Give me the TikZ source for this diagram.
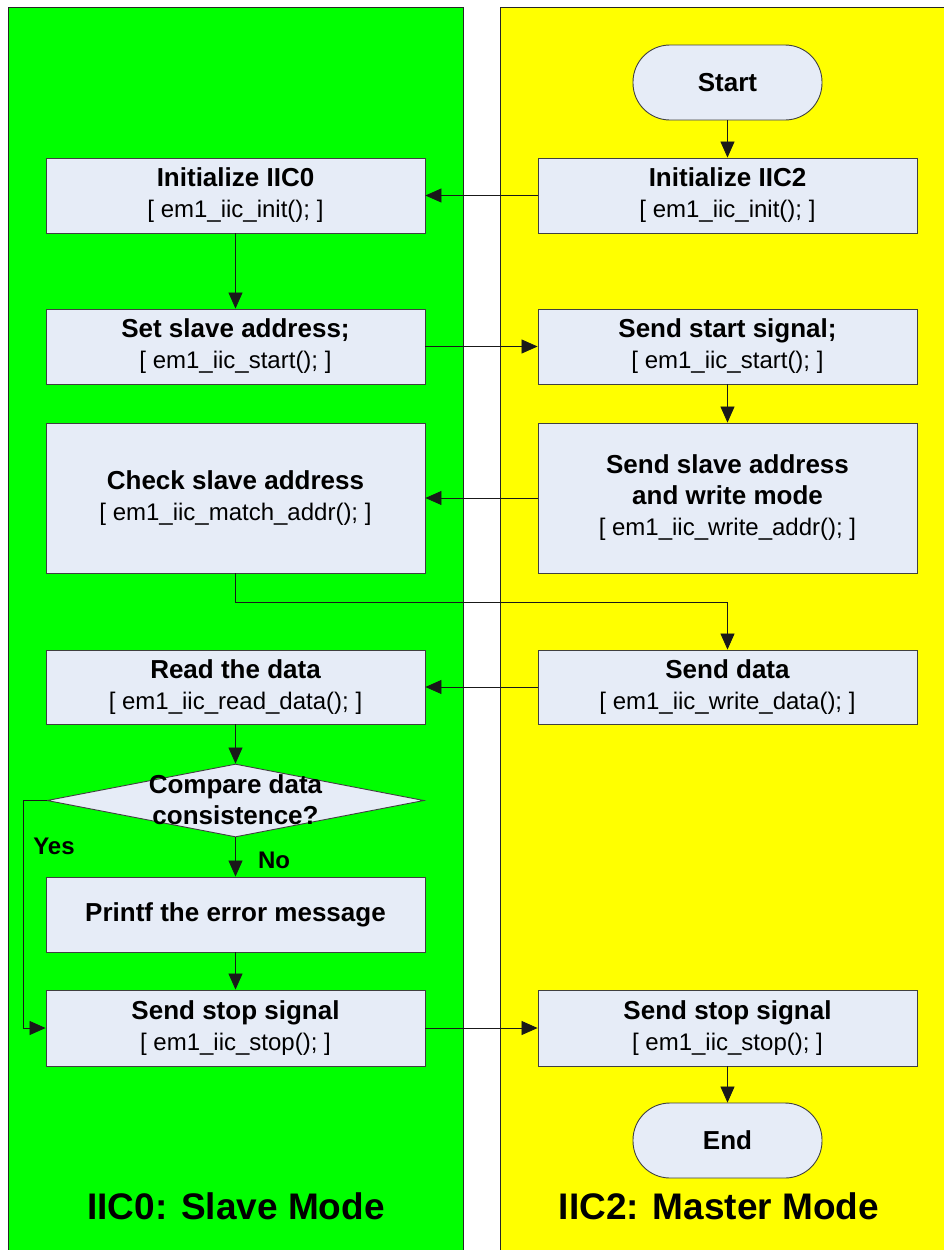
\documentclass[tikz,border=0pt]{standalone}
\usepackage{fontspec}
\setmainfont{Liberation Sans}
\usetikzlibrary{shapes.geometric,arrows.meta}
\definecolor{lanegreen}{RGB}{0,255,0}
\definecolor{laneyellow}{RGB}{255,255,0}
\definecolor{boxfill}{RGB}{230,236,247}
\definecolor{boxline}{RGB}{64,64,64}
\newcommand\hd[1]{{\fontsize{26}{31}\selectfont\bfseries #1}}
\begin{document}
\begin{tikzpicture}[x=1pt,y=-1pt,
  proc/.style={draw=boxline, fill=boxfill, line width=0.9pt, minimum width=379pt,
    inner sep=0pt, align=center, font=\fontsize{24}{31}\selectfont},
  term/.style={draw=boxline, fill=boxfill, line width=0.9pt, rounded corners=37pt,
    minimum width=189pt, minimum height=75pt, inner sep=0pt,
    font=\fontsize{26}{31}\selectfont\bfseries},
  decision/.style={diamond, draw=boxline, fill=boxfill, line width=0.9pt,
    minimum width=377pt, minimum height=73pt, inner sep=0pt},
  flow/.style={draw=black!90, line width=0.8pt, -{Triangle[length=16pt,width=14pt]}},
  lanetitle/.style={font=\fontsize{37}{44}\selectfont\bfseries},
  edgelabel/.style={font=\fontsize{24}{28}\selectfont\bfseries}
]
\useasboundingbox (0,0) rectangle (944,1250);
\clip (0,0) rectangle (944,1250);

% swim lanes
\fill[lanegreen] (8,7) rectangle (463,1260);
\draw[black!85, line width=0.8pt] (8,1260) -- (8,7) -- (463,7) -- (463,1260);
\fill[laneyellow] (500,7) rectangle (960,1260);
\draw[black!85, line width=0.8pt] (500,1260) -- (500,7) -- (960,7);

% master side (IIC2)
\node[term] (start) at (727.5,82.5) {Start};
\node[proc, minimum height=75pt] (init2) at (727.5,195.5)
  {\hd{Initialize IIC2}\\{[} em1\_iic\_init(); ]};
\node[proc, minimum height=75pt] (sstart) at (727.5,346.5)
  {\hd{Send start signal;}\\{[} em1\_iic\_start(); ]};
\node[proc, minimum height=150pt] (saddr) at (727.5,498)
  {\hd{Send slave address}\\\hd{and write mode}\\{[} em1\_iic\_write\_addr(); ]};
\node[proc, minimum height=74pt] (sdata) at (727.5,687)
  {\hd{Send data}\\{[} em1\_iic\_write\_data(); ]};
\node[proc, minimum height=76pt] (stopR) at (727.5,1028)
  {\hd{Send stop signal}\\{[} em1\_iic\_stop(); ]};
\node[term] (end) at (727.5,1140.5) {End};

% slave side (IIC0)
\node[proc, minimum height=75pt] (init0) at (235.5,195.5)
  {\hd{Initialize IIC0}\\{[} em1\_iic\_init(); ]};
\node[proc, minimum height=75pt] (setaddr) at (235.5,346.5)
  {\hd{Set slave address;}\\{[} em1\_iic\_start(); ]};
\node[proc, minimum height=150pt] (chk) at (235.5,498)
  {\hd{Check slave address}\\{[} em1\_iic\_match\_addr(); ]};
\node[proc, minimum height=74pt] (read) at (235.5,687)
  {\hd{Read the data}\\{[} em1\_iic\_read\_data(); ]};
\node[decision] (dec) at (235.5,800.5) {};
\node[align=center, inner sep=0pt, font=\fontsize{26}{31}\selectfont\bfseries]
  (dectext) at (235.5,800) {Compare data\\consistence?};
\node[proc, minimum height=75pt] (printf) at (235.5,914.5)
  {\hd{Printf the error message}};
\node[proc, minimum height=76pt] (stopL) at (235.5,1028)
  {\hd{Send stop signal}\\{[} em1\_iic\_stop(); ]};

% lane titles
\node[lanetitle] (titleL) at (236,1206) {IIC0: Slave Mode};
\node[lanetitle] (titleR) at (719,1206) {IIC2: Master Mode};

% connectors
\draw[flow] (start) -- (init2);
\draw[flow] (init2) -- (init0);
\draw[flow] (init0) -- (setaddr);
\draw[flow] (setaddr) -- (sstart);
\draw[flow] (sstart) -- (saddr);
\draw[flow] (saddr) -- (chk);
\draw[flow] (chk.south) -- ++(0,29) -| (sdata.north);
\draw[flow] (sdata) -- (read);
\draw[flow] (read.south) -- (dec.north);
\draw[flow] (dec.south) -- (printf.north);
\coordinate (yesturn) at (23,800.5);
\draw[flow] (dec.west) -- (yesturn) |- (stopL.west);
\draw[flow] (printf) -- (stopL);
\draw[flow] (stopL) -- (stopR);
\draw[flow] (stopR) -- (end);

% branch labels
\node[edgelabel] (yes) at (54,846) {Yes};
\node[edgelabel] (no) at (274,860) {No};
\end{tikzpicture}
\end{document}
